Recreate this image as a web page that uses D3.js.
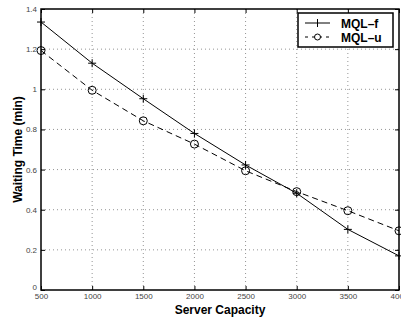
<!DOCTYPE html>
<html lang="en">
<head>
<meta charset="utf-8">
<script src="https://d3js.org/d3.v7.min.js"></script>
<style>
  body { margin: 0; background: #fff; }
  svg { display: block; }
</style>
</head>
<body>
<script>
const capacity = [500, 1000, 1500, 2000, 2500, 3000, 3500, 4000];
const mqlF = [1.335, 1.13, 0.953, 0.78, 0.623, 0.482, 0.302, 0.17];
const mqlU = [1.193, 0.995, 0.843, 0.727, 0.594, 0.49, 0.395, 0.295];
const xTicks = [500, 1000, 1500, 2000, 2500, 3000, 3500, 4000];
const yTicks = [0, 0.2, 0.4, 0.6, 0.8, 1, 1.2, 1.4];
const seriesNames = ["MQL\u2013f", "MQL\u2013u"];

const width = 401, height = 324;
const plotL = 41, plotR = 399, plotT = 9, plotB = 290;

const svg = d3.select("body").append("svg")
    .attr("width", width)
    .attr("height", height);

const x = d3.scaleLinear().domain([500, 4000]).range([plotL, plotR]);
const y = d3.scaleLinear().domain([0, 1.4]).range([plotB, plotT]);

// grid
svg.append("g")
    .selectAll("line")
    .data(xTicks.slice(1, -1))
    .join("line")
    .attr("x1", d => x(d)).attr("x2", d => x(d))
    .attr("y1", plotT).attr("y2", plotB)
    .attr("stroke", "#666").attr("stroke-width", 0.7)
    .attr("stroke-dasharray", "1,3");
svg.append("g")
    .selectAll("line")
    .data(yTicks.slice(1, -1))
    .join("line")
    .attr("x1", plotL).attr("x2", plotR)
    .attr("y1", d => y(d)).attr("y2", d => y(d))
    .attr("stroke", "#666").attr("stroke-width", 0.7)
    .attr("stroke-dasharray", "1,3");

// axes
const tickFont = g => g.selectAll("text")
    .attr("font-family", "Liberation Sans, Arial, sans-serif")
    .attr("font-size", 8).attr("fill", "#444");

svg.append("g")
    .attr("transform", `translate(0,${plotB})`)
    .call(d3.axisBottom(x).tickValues(xTicks).tickSize(-4).tickPadding(3).tickFormat(d3.format("d")))
    .call(g => g.select(".domain").remove())
    .call(tickFont);
svg.append("g")
    .attr("transform", `translate(${plotL},0)`)
    .call(d3.axisLeft(y).tickValues(yTicks).tickSize(-4).tickPadding(4).tickFormat(d => d3.format("")(+d.toFixed(1))))
    .call(g => g.select(".domain").remove())
    .call(tickFont)
    .call(g => g.selectAll(".tick text").filter(d => d === 0).attr("dy", "-0.1em"));
svg.append("g")
    .attr("transform", `translate(0,${plotT})`)
    .call(d3.axisTop(x).tickValues(xTicks).tickSize(-4).tickFormat(""))
    .call(g => g.select(".domain").remove());
svg.append("g")
    .attr("transform", `translate(${plotR},0)`)
    .call(d3.axisRight(y).tickValues(yTicks).tickSize(-4).tickFormat(""))
    .call(g => g.select(".domain").remove());

// frame
svg.append("rect")
    .attr("x", plotL).attr("y", plotT)
    .attr("width", plotR - plotL).attr("height", plotB - plotT)
    .attr("fill", "none").attr("stroke", "#000").attr("stroke-width", 1.5);

const line = d3.line().x((d, i) => x(capacity[i])).y(d => y(d));

// MQL-f
svg.append("path").datum(mqlF)
    .attr("d", line).attr("fill", "none")
    .attr("stroke", "#000").attr("stroke-width", 1);
svg.append("g").selectAll("path")
    .data(mqlF).join("path")
    .attr("d", (d, i) => `M${x(capacity[i]) - 4},${y(d)}h8M${x(capacity[i])},${y(d) - 4}v8`)
    .attr("stroke", "#000").attr("stroke-width", 1);

// MQL-u
svg.append("path").datum(mqlU)
    .attr("d", line).attr("fill", "none")
    .attr("stroke", "#000").attr("stroke-width", 1)
    .attr("stroke-dasharray", "6,4");
svg.append("g").selectAll("circle")
    .data(mqlU).join("circle")
    .attr("cx", (d, i) => x(capacity[i])).attr("cy", d => y(d))
    .attr("r", 4).attr("fill", "none")
    .attr("stroke", "#000").attr("stroke-width", 1);

// legend
const lg = svg.append("g").attr("transform", "translate(298,13)");
lg.append("rect").attr("width", 95).attr("height", 34)
    .attr("fill", "#fff").attr("stroke", "#000").attr("stroke-width", 1.5);
lg.append("line").attr("x1", 7).attr("x2", 32).attr("y1", 10).attr("y2", 10)
    .attr("stroke", "#000");
lg.append("path").attr("d", "M19.5,6v8").attr("stroke", "#000");
lg.append("line").attr("x1", 7).attr("x2", 32).attr("y1", 24).attr("y2", 24)
    .attr("stroke", "#000").attr("stroke-dasharray", "3,4");
lg.append("circle").attr("cx", 19.5).attr("cy", 24).attr("r", 3)
    .attr("fill", "#fff").attr("stroke", "#000");
lg.selectAll("text.lbl").data(seriesNames).join("text")
    .attr("class", "lbl")
    .attr("x", 43).attr("y", (d, i) => 14.5 + i * 14)
    .attr("font-family", "Liberation Sans, Arial, sans-serif")
    .attr("font-weight", "bold").attr("font-size", 12)
    .text(d => d);

// axis titles
svg.append("text")
    .attr("x", (plotL + plotR) / 2).attr("y", 314)
    .attr("text-anchor", "middle")
    .attr("font-family", "Liberation Sans, Arial, sans-serif")
    .attr("font-weight", "bold").attr("font-size", 12)
    .text("Server Capacity");
svg.append("text")
    .attr("transform", `translate(22,${(plotT + plotB) / 2}) rotate(-90)`)
    .attr("text-anchor", "middle")
    .attr("font-family", "Liberation Sans, Arial, sans-serif")
    .attr("font-weight", "bold").attr("font-size", 12)
    .text("Waiting Time (min)");
</script>
</body>
</html>
